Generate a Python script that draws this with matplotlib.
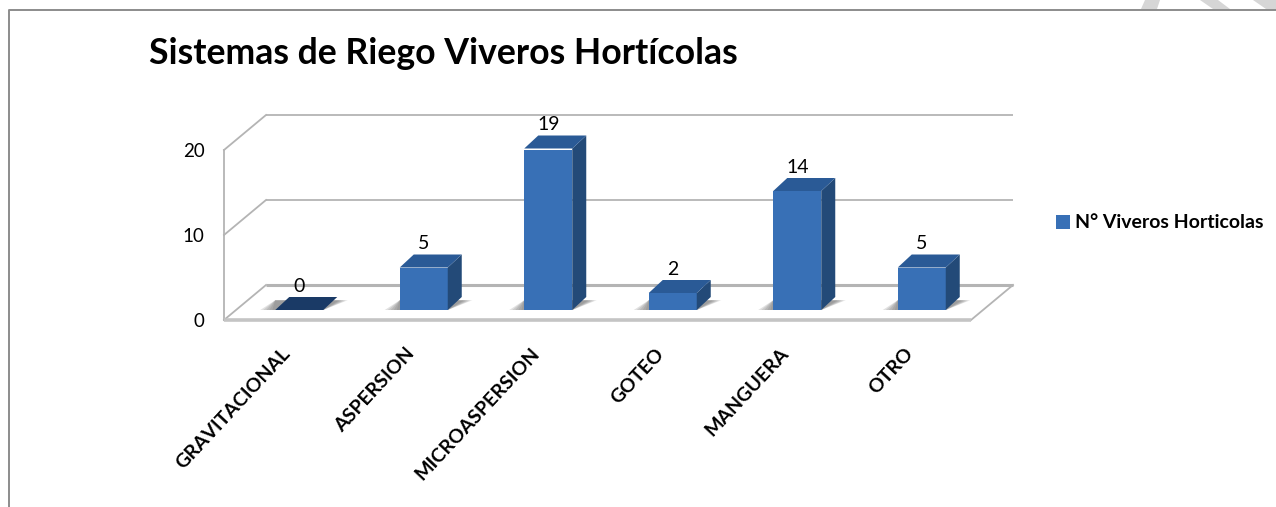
import matplotlib.pyplot as plt
from matplotlib.patches import Polygon
from matplotlib.lines import Line2D
from matplotlib.transforms import ScaledTranslation
import numpy as np

plt.rcParams['font.family'] = ['Lato', 'DejaVu Sans']

categories = ['GRAVITACIONAL', 'ASPERSION', 'MICROASPERSION', 'GOTEO', 'MANGUERA', 'OTRO']
values = [0, 5, 19, 2, 14, 5]
y_ticks = [0, 10, 20]
series_name = 'N° Viveros Horticolas'
title = 'Sistemas de Riego Viveros Hortícolas'

W, H = 1276, 507
fig = plt.figure(figsize=(W / 100, H / 100), dpi=100)
ax = fig.add_axes([224 / W, (H - 320) / H, 747 / W, 170 / H])
ax.set_xlim(-0.5, 5.5)
ax.set_ylim(0, 20)
ax.set_facecolor('none')
for s in ax.spines.values():
    s.set_visible(False)

# pixels to data units
ux = 124.5
uy = 8.5
wall_dx, wall_dy = 42 / ux, 35 / uy
bar_w = 48 / ux
off_x, base = 13 / ux, 10 / uy
depth_x, depth_y = 14 / ux, 13 / uy

front, side, top, zero_top = '#3870b6', '#234a78', '#2a5a96', '#1a3a66'
grid = '#b4b4b4'
x0, x1 = -0.5, 5.5

# walls and floor
floor = Polygon([(x0, 0), (x1, 0), (x1 + wall_dx, wall_dy), (x0 + wall_dx, wall_dy)],
                closed=True, fc='white', ec='none', clip_on=False, zorder=1)
ax.add_patch(floor)
for v in y_ticks:
    lw = 2.2 if v == 0 else 1.3
    ax.plot([x0 + wall_dx, x1 + wall_dx], [v + wall_dy, v + wall_dy], color=grid, lw=lw,
            clip_on=False, zorder=2, solid_capstyle='butt')
    ax.plot([x0, x0 + wall_dx], [v, v + wall_dy], color=grid, lw=1.3, clip_on=False, zorder=2)
ax.plot([x0, x0], [0, 20], color=grid, lw=1.3, clip_on=False, zorder=2)
ax.plot([x1, x1 + wall_dx], [0, wall_dy], color=grid, lw=1.3, clip_on=False, zorder=2)
ax.plot([x0, x1], [0, 0], color='#c4c4c4', lw=2.6, clip_on=False, zorder=2, solid_capstyle='butt')

# bars
x = np.arange(len(categories))
bars = ax.bar(x + off_x, values, bar_w, bottom=base, color=front, zorder=5, label=series_name)
for xi, v in zip(x, values):
    l = xi + off_x - bar_w / 2
    r = xi + off_x + bar_w / 2
    t = base + v
    # soft shadow on the floor
    for k in range(1, 6):
        g = k * 3 / ux
        ax.fill([l - g, r, r + depth_x + g * 0.7, l],
                [base, base, base + 0.75 * depth_y, base + 0.75 * depth_y],
                color='#707070', alpha=0.2, lw=0, zorder=3, clip_on=False)
    if v > 0:
        ax.fill([r, r + depth_x, r + depth_x, r], [base, base + depth_y, t + depth_y, t],
                color=side, lw=0, zorder=5, clip_on=False)
    ax.fill([l, r, r + depth_x, l + depth_x], [t, t, t + depth_y, t + depth_y],
            color=top if v > 0 else zero_top, lw=0, zorder=5, clip_on=False)
    ax.annotate(str(v), (xi + off_x, t), xytext=(0, 17), textcoords='offset points',
                ha='center', va='center', fontsize=14, color='black', zorder=6,
                annotation_clip=False)

ax.set_yticks(y_ticks)
ax.set_xticks(x)
ax.set_xticklabels(categories, rotation=47, ha='right', rotation_mode='anchor',
                   fontsize=14, fontweight='bold', color='black')
ax.tick_params(axis='both', length=0)
ax.tick_params(axis='x', pad=18)
ax.tick_params(axis='y', pad=14, labelsize=13.5)
# labels sit a little left of the category centre
shift = ScaledTranslation(-5 / 100, 0, fig.dpi_scale_trans)
for lab in ax.get_xticklabels():
    lab.set_transform(lab.get_transform() + shift)

leg = fig.legend(handles=[bars], labels=[series_name], loc='center left',
                 bbox_to_anchor=(1056 / W, (H - 223) / H), frameon=False,
                 handlelength=0.7, handleheight=0.7, handletextpad=0.3, borderpad=0,
                 borderaxespad=0, prop={'size': 14, 'weight': 'bold'})

fig.text(149 / W, (H - 53) / H, title, fontsize=25.7, fontweight='bold', color='black',
         ha='left', va='center')

# outer frame
fig.add_artist(Line2D([9 / W, 9 / W, 1], [0, (H - 10) / H, (H - 10) / H], color='#8c8c8c', lw=1.4))

# watermark remains, top right corner
wm = '#d6d6d6'
for pts in ([(1141, 9), (1145, 0), (1160, 0), (1157, 9)],
            [(1200, 0), (1218, 0), (1230, 9), (1213, 9)],
            [(1253, 0), (1276, 0), (1276, 9), (1266, 9)]):
    fig.add_artist(Polygon([(px / W, (H - py) / H) for px, py in pts], closed=True,
                           fc=wm, ec='none', transform=fig.transFigure))

fig.savefig('out.png', dpi=100, facecolor='white')
